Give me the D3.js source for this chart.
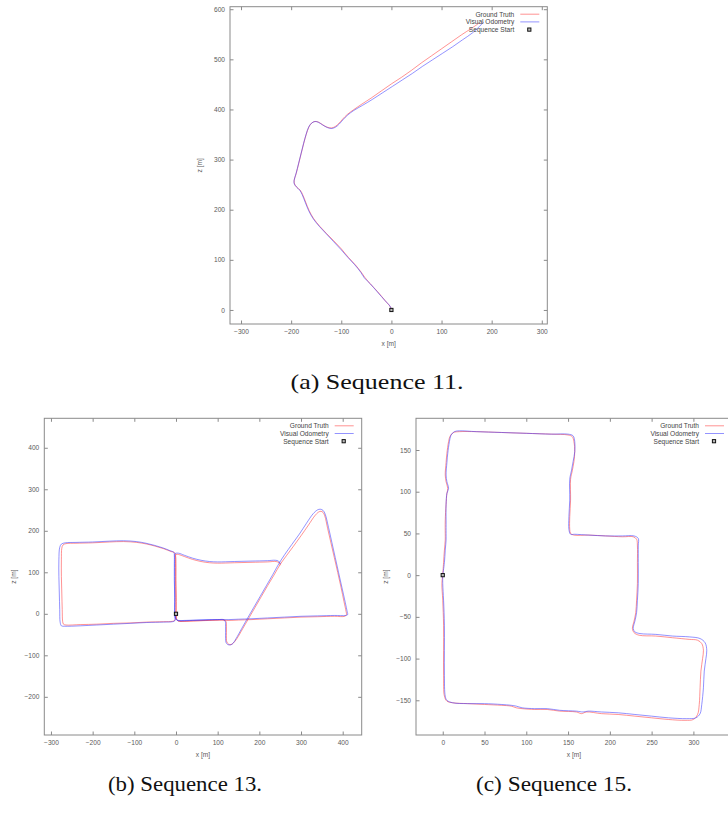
<!DOCTYPE html>
<html>
<head>
<meta charset="utf-8">
<script src="https://cdn.jsdelivr.net/npm/d3@7"></script>
<style>
  html, body { margin: 0; padding: 0; background: #fff; }
  svg { display: block; overflow: hidden; }
</style>
</head>
<body>
<svg id="fig" width="728" height="813"></svg>
<script>
// Trajectories in the ground plane, [x, z] in metres.
const seq11GroundTruth = [[0,0],[-2,6],[-12,18],[-28,37],[-42,52],[-53,65],[-60,75],[-72,90],[-86,105],[-100,122],[-115,138],[-130,153],[-143,167],[-155,182],[-164,198],[-171,215],[-177,230],[-182,239],[-189,245],[-193,251],[-194,258],[-190,272],[-185,292],[-180,312],[-175,332],[-170,350],[-165,364],[-160,372],[-153,376],[-146,375],[-138,370],[-129,365],[-120,363],[-112,366],[-105,372],[-97,381],[-88,390],[-76,399],[-60,410],[-40,423],[-20,437],[0,451],[20,464],[40,478],[60,493],[80,507],[100,521],[120,535],[140,549],[160,562],[176,573]];
const seq11VisualOdometry = [[0,2],[-3,8],[-13,19],[-28,36],[-42,52],[-54,64],[-61,75],[-73,90],[-87,105],[-101,121],[-116,137],[-131,153],[-144,167],[-156,182],[-165,198],[-172,215],[-178,230],[-183,239],[-190,246],[-194,252],[-194,259],[-190,273],[-185,293],[-180,313],[-175,333],[-170,351],[-165,365],[-159,373],[-152,376],[-145,374],[-137,369],[-128,364],[-119,362],[-111,365],[-104,371],[-96,380],[-87,389],[-75,398],[-58,408],[-38,420],[-18,433],[2,446],[22,459],[42,472],[62,486],[82,499],[102,512],[122,525],[142,539],[162,553],[184,574]];

const seq13GroundTruth = [[0,0],[0,-10],[4,-16],[12,-18],[40,-17],[70,-16],[100,-15],[115,-15],[120,-18],[121,-30],[121,-45],[121,-60],[122,-68],[126,-73],[132,-74],[138,-70],[146,-60],[160,-36],[175,-10],[190,16],[205,42],[220,68],[235,93],[250,119],[265,140],[282,163],[300,188],[318,214],[333,236],[342,245],[348,247],[353,244],[357,236],[364,205],[372,170],[380,135],[388,100],[396,64],[403,30],[408,6],[409,-2],[405,-6],[380,-6],[340,-7],[300,-8],[260,-10],[220,-12],[180,-14],[150,-15],[125,-16],[110,-15],[80,-16],[50,-17],[20,-18],[6,-18],[2,-14],[1,0],[1,40],[0,80],[0,120],[-1,140],[-3,147],[-12,150],[-30,157],[-50,163],[-70,168],[-94,172],[-126,174],[-160,173],[-200,171],[-240,170],[-264,169],[-271,166],[-274,158],[-275,130],[-275,90],[-274,50],[-273,10],[-272,-18],[-270,-25],[-264,-27],[-230,-26],[-190,-25],[-150,-23],[-110,-22],[-70,-20],[-30,-19],[-8,-18],[-2,-15],[-1,-5],[-1,40],[-1,90],[-1,130],[0,143],[6,143],[20,138],[40,131],[60,126],[80,123],[100,122],[140,123],[180,124],[220,125],[240,126],[247,123],[251,117]];
const seq13VisualOdometry = [[0,0],[-1,-10],[3,-16],[11,-17],[40,-16],[70,-15],[100,-14],[114,-14],[118,-18],[119,-30],[119,-45],[119,-60],[120,-69],[124,-74],[131,-75],[137,-71],[144,-60],[158,-35],[172,-10],[187,16],[202,42],[217,68],[232,94],[247,121],[261,143],[278,167],[296,192],[313,218],[329,241],[339,250],[346,252],[353,249],[358,240],[366,208],[374,172],[382,136],[390,100],[398,64],[406,28],[411,4],[412,-2],[407,-4],[380,-4],[340,-5],[300,-6],[260,-8],[220,-10],[180,-12],[150,-13],[125,-14],[110,-14],[80,-14],[50,-15],[20,-16],[6,-16],[0,-13],[-3,0],[-3,40],[-4,80],[-4,120],[-4,140],[-5,148],[-14,152],[-32,159],[-52,165],[-72,170],[-95,174],[-126,176],[-160,175],[-200,173],[-240,172],[-266,171],[-275,168],[-279,160],[-281,130],[-281,90],[-280,50],[-279,10],[-278,-20],[-275,-29],[-267,-30],[-230,-29],[-190,-27],[-150,-25],[-110,-23],[-70,-21],[-30,-20],[-8,-19],[-3,-17],[-3,-5],[-3,40],[-3,90],[-3,130],[-2,145],[6,146],[20,141],[40,134],[60,129],[80,126],[100,125],[140,126],[180,127],[220,128],[238,129],[246,127],[251,120]];

const seq15GroundTruth = [[0,0],[1,15],[2,30],[3,42],[3,50],[3,65],[4,85],[5,98],[6,104],[4,112],[3,120],[4,135],[5,146],[7,160],[9,167],[13,171],[20,172],[40,172],[70,171],[100,170],[130,169],[150,168],[155,166],[157,160],[158,148],[157,136],[155,125],[153,115],[153,90],[152,70],[152,55],[153,50],[157,48],[175,48],[195,47],[215,46],[228,46],[232,43],[233,35],[233,15],[233,-10],[232,-30],[231,-45],[229,-55],[227,-64],[229,-69],[235,-72],[255,-73],[275,-75],[295,-77],[305,-78],[310,-82],[312,-90],[311,-100],[309,-115],[308,-135],[307,-155],[305,-167],[300,-173],[290,-174],[270,-173],[250,-171],[230,-169],[210,-167],[190,-166],[172,-164],[166,-166],[160,-164],[140,-163],[125,-161],[110,-161],[95,-160],[88,-159],[82,-157],[70,-156],[50,-155],[30,-154],[12,-153],[5,-151],[2,-145],[1,-120],[1,-90],[1,-60],[0,-30],[-1,-10],[0,0]];
const seq15VisualOdometry = [[0,0],[2,15],[3,30],[4,42],[4,50],[4,65],[4,85],[5,98],[7,104],[5,112],[4,120],[5,135],[6,146],[8,160],[10,168],[14,172],[20,173],[40,172],[70,171],[100,170],[130,169],[150,169],[156,167],[158,160],[158,148],[156,136],[154,125],[152,115],[152,90],[151,70],[151,55],[153,49],[158,49],[175,48],[195,47],[215,47],[229,47],[234,44],[234,35],[234,15],[234,-10],[233,-30],[232,-45],[230,-55],[228,-64],[230,-68],[236,-70],[255,-71],[275,-73],[295,-74],[308,-76],[314,-81],[316,-90],[315,-100],[313,-115],[312,-135],[310,-155],[308,-166],[303,-171],[292,-172],[270,-171],[250,-169],[230,-167],[210,-165],[190,-164],[174,-163],[168,-164],[160,-163],[140,-162],[125,-160],[110,-160],[95,-159],[88,-157],[82,-156],[70,-155],[50,-154],[30,-154],[12,-153],[5,-150],[3,-145],[2,-120],[2,-90],[2,-60],[1,-30],[0,-10],[0,0]];

const sequenceStart = [0, 0];

const seq11XTicks = [-300, -200, -100, 0, 100, 200, 300];
const seq11YTicks = [0, 100, 200, 300, 400, 500, 600];
const seq13XTicks = [-300, -200, -100, 0, 100, 200, 300, 400];
const seq13YTicks = [-200, -100, 0, 100, 200, 300, 400];
const seq15XTicks = [0, 50, 100, 150, 200, 250, 300];
const seq15YTicks = [-150, -100, -50, 0, 50, 100, 150];

const legendLabels = ["Ground Truth", "Visual Odometry", "Sequence Start"];
const captions = ["(a) Sequence 11.", "(b) Sequence 13.", "(c) Sequence 15."];

// Panel layout: plotting frame in pixels and the axis ranges shown in it.
const panels = [
  { gt: seq11GroundTruth, vo: seq11VisualOdometry, xTicks: seq11XTicks, yTicks: seq11YTicks,
    frame: { left: 230, right: 547.3, top: 6.7, bottom: 324 },
    xDomain: [-322, 311], yDomain: [-28, 605],
    caption: captions[0], captionX: 377, captionY: 389, captionW: 173 },
  { gt: seq13GroundTruth, vo: seq13VisualOdometry, xTicks: seq13XTicks, yTicks: seq13YTicks,
    frame: { left: 44.3, right: 361.7, top: 418.3, bottom: 735 },
    xDomain: [-316, 445.6], yDomain: [-292, 471],
    caption: captions[1], captionX: 185, captionY: 791, captionW: 154 },
  { gt: seq15GroundTruth, vo: seq15VisualOdometry, xTicks: seq15XTicks, yTicks: seq15YTicks,
    frame: { left: 416, right: 732, top: 418.3, bottom: 735 },
    xDomain: [-32, 346.2], yDomain: [-191.6, 188],
    caption: captions[2], captionX: 554, captionY: 791, captionW: 156 }
];

const svg = d3.select("#fig");
const frameColor = "#8a8a8a";
const textColor = "#5a5a5a";
const gtColor = "#ff3b3b";
const voColor = "#3b3bff";
const sansFont = "'Liberation Sans', Arial, sans-serif";

panels.forEach((p, idx) => {
  const f = p.frame;
  const x = d3.scaleLinear().domain(p.xDomain).range([f.left, f.right]);
  const y = d3.scaleLinear().domain(p.yDomain).range([f.bottom, f.top]);
  const g = svg.append("g");

  const clipId = "clip" + idx;
  svg.append("clipPath").attr("id", clipId)
    .append("rect").attr("x", f.left).attr("y", f.top)
    .attr("width", f.right - f.left).attr("height", f.bottom - f.top);

  // Axes with inward ticks, mirrored on the opposite sides.
  const tickLen = 3.5;
  const axB = g.append("g").attr("transform", `translate(0,${f.bottom})`)
    .call(d3.axisBottom(x).tickValues(p.xTicks).tickSizeInner(-tickLen).tickSizeOuter(0).tickPadding(5));
  const axT = g.append("g").attr("transform", `translate(0,${f.top})`)
    .call(d3.axisTop(x).tickValues(p.xTicks).tickSizeInner(-tickLen).tickSizeOuter(0).tickFormat(""));
  const axL = g.append("g").attr("transform", `translate(${f.left},0)`)
    .call(d3.axisLeft(y).tickValues(p.yTicks).tickSizeInner(-tickLen).tickSizeOuter(0).tickPadding(5));
  const axR = g.append("g").attr("transform", `translate(${f.right},0)`)
    .call(d3.axisRight(y).tickValues(p.yTicks).tickSizeInner(-tickLen).tickSizeOuter(0).tickFormat(""));
  [axB, axT, axL, axR].forEach(a => {
    a.select(".domain").remove();
    a.selectAll(".tick line").attr("stroke", frameColor).attr("stroke-width", 1);
    a.selectAll(".tick text").attr("fill", textColor)
      .style("font-family", sansFont).style("font-size", "6.6px");
  });

  g.append("rect")
    .attr("x", f.left).attr("y", f.top)
    .attr("width", f.right - f.left).attr("height", f.bottom - f.top)
    .attr("fill", "none").attr("stroke", frameColor).attr("stroke-width", 1);

  // Axis titles
  g.append("text")
    .attr("x", (f.left + f.right) / 2)
    .attr("y", f.bottom + 21.5)
    .attr("text-anchor", "middle").attr("fill", textColor)
    .style("font-family", sansFont).style("font-size", "6.6px")
    .text("x [m]");
  const zx = f.left - 28, zy = (f.top + f.bottom) / 2;
  g.append("text")
    .attr("transform", `translate(${zx},${zy}) rotate(-90)`)
    .attr("text-anchor", "middle").attr("fill", textColor)
    .style("font-family", sansFont).style("font-size", "6.6px")
    .text("z [m]");

  // Trajectories
  const line = d3.line().x(d => x(d[0])).y(d => y(d[1])).curve(d3.curveCatmullRom.alpha(0.5));
  const plot = g.append("g").attr("clip-path", `url(#${clipId})`);
  plot.append("path").datum(p.gt).attr("d", line)
    .attr("fill", "none").attr("stroke", gtColor).attr("stroke-width", 0.9).attr("stroke-opacity", 0.62);
  plot.append("path").datum(p.vo).attr("d", line)
    .attr("fill", "none").attr("stroke", voColor).attr("stroke-width", 0.9).attr("stroke-opacity", 0.62);

  // Start marker
  plot.append("rect")
    .attr("x", x(sequenceStart[0]) - 1.6).attr("y", y(sequenceStart[1]) - 1.6)
    .attr("width", 3.2).attr("height", 3.2)
    .attr("fill", "#bbb").attr("stroke", "#111").attr("stroke-width", 1);

  // Legend
  const lg = g.append("g");
  legendLabels.forEach((lab, i) => {
    const ly = f.top + 7.5 + i * 7.7;
    lg.append("text")
      .attr("x", f.right - 33).attr("y", ly + 2.3)
      .attr("text-anchor", "end").attr("fill", "#444")
      .style("font-family", sansFont).style("font-size", "6.6px")
      .text(lab);
    if (i < 2) {
      lg.append("line")
        .attr("x1", f.right - 27).attr("x2", f.right - 8)
        .attr("y1", ly).attr("y2", ly)
        .attr("stroke", i === 0 ? gtColor : voColor).attr("stroke-width", 0.9).attr("stroke-opacity", 0.62);
    } else {
      lg.append("rect")
        .attr("x", f.right - 19.6).attr("y", ly - 1.6)
        .attr("width", 3.2).attr("height", 3.2)
        .attr("fill", "#bbb").attr("stroke", "#111").attr("stroke-width", 1);
    }
  });

  // Caption
  svg.append("text")
    .attr("x", p.captionX).attr("y", p.captionY)
    .attr("text-anchor", "middle").attr("fill", "#111")
    .attr("textLength", p.captionW).attr("lengthAdjust", "spacingAndGlyphs")
    .style("font-family", "'Liberation Serif', 'DejaVu Serif', serif").style("font-size", "21px")
    .text(p.caption);
});
</script>
</body>
</html>
